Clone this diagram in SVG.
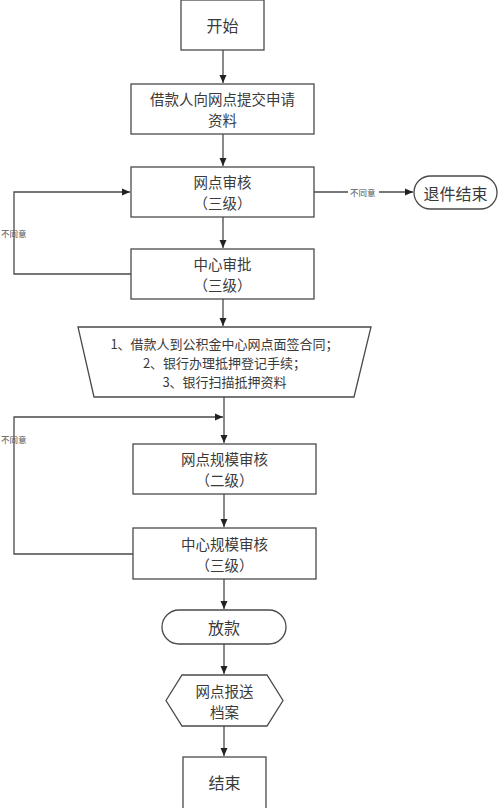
<svg xmlns="http://www.w3.org/2000/svg" width="498" height="808" viewBox="0 0 498 808">
<style>
.n{fill:#fff;stroke:#4a4a4a;stroke-width:1.3}
.t{font-family:"Noto Sans CJK SC","Noto Sans",sans-serif;font-size:16px;fill:#3a3a3a;text-anchor:middle;dominant-baseline:central}
.m{font-size:14.5px}
.s{font-size:13px}
.l{font-family:"Noto Sans CJK SC","Noto Sans",sans-serif;font-size:8.5px;fill:#555;dominant-baseline:central}
.c{fill:none;stroke:#4a4a4a;stroke-width:1.3}
</style>
<defs>
<marker id="a" markerUnits="userSpaceOnUse" markerWidth="8" markerHeight="8" refX="8" refY="4" orient="auto">
<path d="M0,0.5 L8,4 L0,7.5 z" fill="#222"/>
</marker>
</defs>
<rect width="498" height="808" fill="#fff"/>
<g id="connectors">
<path class="c" d="M223,50 V83" marker-end="url(#a)"/>
<path class="c" d="M223,134 V166" marker-end="url(#a)"/>
<path class="c" d="M314,192 H413" marker-end="url(#a)"/>
<rect x="348" y="186" width="31" height="12" fill="#fff"/>
<text class="l" x="350" y="192">不同意</text>
<path class="c" d="M223,217 V248" marker-end="url(#a)"/>
<path class="c" d="M131,274 H14 V192 H130" marker-end="url(#a)"/>
<text class="l" x="1" y="233">不同意</text>
<path class="c" d="M223,299 V326" marker-end="url(#a)"/>
<path class="c" d="M224,397 V443" marker-end="url(#a)"/>
<path class="c" d="M133,554 H14 V417 H223" marker-end="url(#a)"/>
<text class="l" x="1" y="439">不同意</text>
<path class="c" d="M224,494 V527" marker-end="url(#a)"/>
<path class="c" d="M224,579 V609" marker-end="url(#a)"/>
<path class="c" d="M224,644 V674" marker-end="url(#a)"/>
<path class="c" d="M224,726 V756" marker-end="url(#a)"/>
</g>
<g id="start">
<rect class="n" x="181" y="0" width="83" height="50"/>
<text class="t" x="222.5" y="25">开始</text>
</g>
<g id="submit">
<rect class="n" x="131" y="84" width="183" height="50"/>
<text class="t m" x="222.5" y="98.5">借款人向网点提交申请</text>
<text class="t m" x="222.5" y="119.5">资料</text>
</g>
<g id="branch-review">
<rect class="n" x="131" y="167" width="183" height="50"/>
<text class="t m" x="222.5" y="181.5">网点审核</text>
<text class="t m" x="222.5" y="202.5">（三级）</text>
</g>
<g id="reject-end">
<rect class="n" x="414" y="176" width="83" height="33" rx="16.5"/>
<text class="t" x="455.5" y="192.5">退件结束</text>
</g>
<g id="center-approve">
<rect class="n" x="131" y="249" width="183" height="50"/>
<text class="t m" x="222.5" y="263.5">中心审批</text>
<text class="t m" x="222.5" y="284.5">（三级）</text>
</g>
<g id="manual-steps">
<polygon class="n" points="78,327 371,327 354,397 94,397"/>
<text class="t s" x="224.5" y="343">1、借款人到公积金中心网点面签合同；</text>
<text class="t s" x="224.5" y="362">2、银行办理抵押登记手续；</text>
<text class="t s" x="224.5" y="381">3、银行扫描抵押资料</text>
</g>
<g id="branch-scale-review">
<rect class="n" x="133" y="444" width="183" height="50"/>
<text class="t m" x="224.5" y="458.5">网点规模审核</text>
<text class="t m" x="224.5" y="479.5">（二级）</text>
</g>
<g id="center-scale-review">
<rect class="n" x="133" y="528" width="183" height="51"/>
<text class="t m" x="224.5" y="543">中心规模审核</text>
<text class="t m" x="224.5" y="564">（三级）</text>
</g>
<g id="loan">
<rect class="n" x="162" y="610" width="124" height="34" rx="17"/>
<text class="t" x="224" y="627">放款</text>
</g>
<g id="archive">
<polygon class="n" points="166,700.5 182,675 267,675 283,700.5 267,726 182,726"/>
<text class="t m" x="224.5" y="690">网点报送</text>
<text class="t m" x="224.5" y="711">档案</text>
</g>
<g id="end">
<rect class="n" x="183" y="757" width="83" height="52"/>
<text class="t" x="224.5" y="782">结束</text>
</g>
</svg>
